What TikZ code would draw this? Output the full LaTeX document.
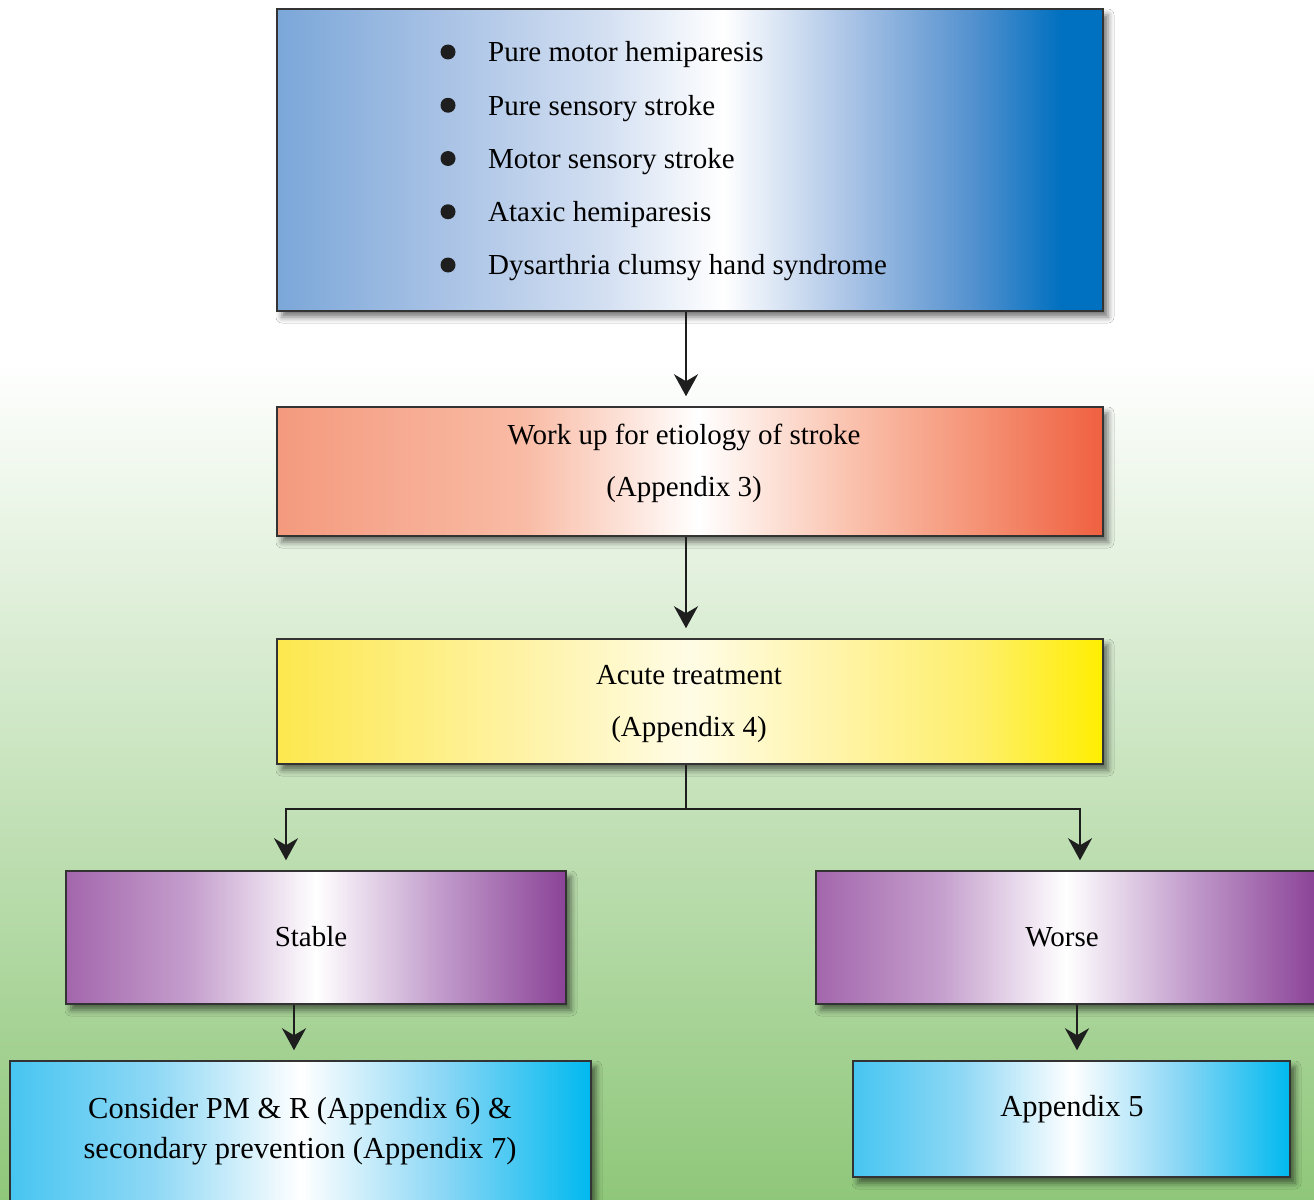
\documentclass[tikz,border=0pt]{standalone}
\usepackage{fontspec}
\setmainfont{Liberation Serif}
\usetikzlibrary{arrows.meta,positioning,shadows.blur}

\definecolor{boxline}{HTML}{333333}
\definecolor{arrowc}{HTML}{1E1E1E}
\definecolor{bgG}{HTML}{8FC77A}
% colours of the boxes
\definecolor{blueA}{HTML}{7BA7D9}\definecolor{blueB}{HTML}{A8C2E5}
\definecolor{blueC}{HTML}{D4E0F2}\definecolor{blueD}{HTML}{A6C1E5}
\definecolor{blueE}{HTML}{5592CF}\definecolor{blueF}{HTML}{0070C0}
\definecolor{redA}{HTML}{F49A7E}\definecolor{redB}{HTML}{F9BBA5}
\definecolor{redC}{HTML}{FAC0AB}\definecolor{redD}{HTML}{F59275}
\definecolor{redE}{HTML}{EF6040}
\definecolor{yelA}{HTML}{FDE84E}\definecolor{yelB}{HTML}{FEF3A6}
\definecolor{yelC}{HTML}{FFFCE6}\definecolor{yelD}{HTML}{FFF3A0}
\definecolor{yelE}{HTML}{FEEF6A}\definecolor{yelF}{HTML}{FFEE00}
\definecolor{purA}{HTML}{A366AC}\definecolor{purB}{HTML}{C59FCD}
\definecolor{purC}{HTML}{C19BCB}\definecolor{purD}{HTML}{8B4397}
\definecolor{cyaA}{HTML}{46C5F1}\definecolor{cyaB}{HTML}{8FD8F5}
\definecolor{cyaC}{HTML}{88D6F5}\definecolor{cyaD}{HTML}{00B9EF}

\pgfdeclarehorizontalshading{blueshade}{100bp}{color(0bp)=(blueA); color(25bp)=(blueA);
  color(35bp)=(blueB); color(45bp)=(blueC); color(52bp)=(white); color(60bp)=(blueD);
  color(67bp)=(blueE); color(72.5bp)=(blueF); color(100bp)=(blueF)}
\pgfdeclarehorizontalshading{redshade}{100bp}{color(0bp)=(redA); color(25bp)=(redA);
  color(40bp)=(redB); color(50.5bp)=(white); color(60bp)=(redC); color(67.5bp)=(redD);
  color(75bp)=(redE); color(100bp)=(redE)}
\pgfdeclarehorizontalshading{yellowshade}{100bp}{color(0bp)=(yelA); color(25bp)=(yelA);
  color(40bp)=(yelB); color(50bp)=(yelC); color(60bp)=(yelD); color(67.5bp)=(yelE);
  color(75bp)=(yelF); color(100bp)=(yelF)}
\pgfdeclarehorizontalshading{purpleshade}{100bp}{color(0bp)=(purA); color(25bp)=(purA);
  color(37.5bp)=(purB); color(50bp)=(white); color(62.5bp)=(purC); color(75bp)=(purD);
  color(100bp)=(purD)}
\pgfdeclarehorizontalshading{cyanshade}{100bp}{color(0bp)=(cyaA); color(25bp)=(cyaA);
  color(37.5bp)=(cyaB); color(50bp)=(white); color(62.5bp)=(cyaC); color(75bp)=(cyaD);
  color(100bp)=(cyaD)}

\tikzset{
  box/.style={rectangle, shade, draw=boxline, line width=1.5pt, inner sep=0pt,
    blur shadow={shadow xshift=5pt, shadow yshift=-6pt, shadow blur radius=6pt,
      shadow opacity=55}},
  flow/.style={draw=arrowc, line width=2.2pt, shorten >=10pt,
    -{Stealth[length=22pt,width=24pt,inset=7pt]}},
  link/.style={draw=arrowc, line width=2.2pt},
  boxtext/.style={align=center, inner sep=0pt, font=\fontsize{29}{52}\selectfont},
  itemtext/.style={anchor=west, inner sep=0pt, font=\fontsize{29}{35}\selectfont}
}

\begin{document}
\begin{tikzpicture}[x=1pt, y=-1pt]
    % background
    \useasboundingbox (0,0) rectangle (1314,1199);
    \fill[white] (0,0) rectangle (1314,1199);
    \shade[top color=white, bottom color=bgG] (0,360) rectangle (1314,1199);

    % boxes
    \node[box, shading=blueshade, minimum width=826pt, minimum height=302pt] (sympt) at (690,160) {};
    \node[box, shading=redshade, minimum width=826pt, minimum height=129pt] (etio) at (690,471.5) {};
    \node[box, shading=yellowshade, minimum width=826pt, minimum height=125pt] (acute) at (690,701.5) {};
    \node[box, shading=purpleshade, minimum width=500pt, minimum height=133pt] (stable) at (316,937.5) {};
    \node[box, shading=purpleshade, minimum width=500pt, minimum height=133pt] (worse) at (1066,937.5) {};
    \node[box, shading=cyanshade, minimum width=581pt, minimum height=154pt] (consider) at (300.5,1138) {};
    \node[box, shading=cyanshade, minimum width=437pt, minimum height=116pt] (app5) at (1071.5,1119) {};

    % symptoms
    \foreach \t [count=\i] in {Pure motor hemiparesis, Pure sensory stroke, Motor sensory stroke,
        Ataxic hemiparesis, Dysarthria clumsy hand syndrome} {
        \pgfmathsetmacro{\yy}{55+53.25*(\i-1)}
        \fill[arrowc] (448,\yy-3) circle (7.5);
        \node[itemtext] (item\i) at (488,\yy) {\t};
    }

    % texts
    \node[boxtext] (etiotext) at (684,463) {Work up for etiology of stroke\\(Appendix 3)};
    \node[boxtext] (acutetext) at (689,704) {Acute treatment\\(Appendix 4)};
    \node[boxtext] (stabletext) at (311,937) {Stable};
    \node[boxtext] (worsetext) at (1062,937) {Worse};
    \node[boxtext, font=\fontsize{30.5}{40}\selectfont] (considertext) at (300,1131)
        {Consider PM \& R (Appendix 6) \&\\secondary prevention (Appendix 7)};
    \node[boxtext, font=\fontsize{30.5}{40}\selectfont] (app5text) at (1072,1109) {Appendix 5};

    % arrows
    \draw[flow] ([xshift=-4pt]sympt.south) -- ([xshift=-4pt]etio.north);
    \draw[flow] ([xshift=-4pt]etio.south) -- ([xshift=-4pt]acute.north);
    \coordinate (split) at ([xshift=-4pt,yshift=-44pt]acute.south);
    \draw[link] ([xshift=-4pt]acute.south) -- (split);
    \draw[flow] (split) -| ([xshift=-30pt]stable.north);
    \draw[flow] (split) -| ([xshift=14pt]worse.north);
    \draw[flow] ([xshift=-22pt]stable.south) -- ([xshift=-6.5pt]consider.north);
    \draw[flow] ([xshift=11pt]worse.south) -- ([xshift=5.5pt]app5.north);
\end{tikzpicture}
\end{document}
